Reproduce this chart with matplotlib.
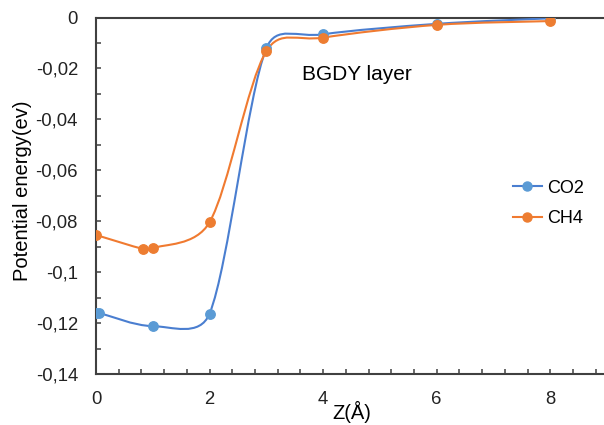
import matplotlib
matplotlib.use("Agg")
import matplotlib.pyplot as plt
import numpy as np
from matplotlib.path import Path
from matplotlib.patches import PathPatch
from matplotlib.ticker import MultipleLocator, FuncFormatter
from matplotlib.lines import Line2D

plt.rcParams['font.family'] = ['Liberation Sans', 'DejaVu Sans']

# data
co2_z = [0, 0.05, 1, 2, 3, 4, 6, 8]
co2_e = [-0.116, -0.116, -0.1212, -0.1163, -0.0121, -0.0066, -0.0025, -0.0003]
ch4_z = [0, 0.83, 1, 2, 3, 4, 6, 8]
ch4_e = [-0.0854, -0.0909, -0.0906, -0.0804, -0.0132, -0.0079, -0.0029, -0.0014]

co2_line, co2_mark = '#4A7ED0', '#5B9BD5'
ch4_line, ch4_mark = '#F07A30', '#ED7D31'


def smooth_path(ax, xs, ys):
    # excel-like smoothed line: catmull-rom bezier, tangents clamped on short segments
    pts = np.column_stack([xs, ys]).astype(float)
    disp = ax.transData.transform(pts)
    n = len(pts)
    verts = [pts[0]]
    codes = [Path.MOVETO]
    def tangent(i):
        a = pts[max(i - 1, 0)]
        b = pts[min(i + 1, n - 1)]
        return (b - a) / 6.0
    for i in range(n - 1):
        seg = np.hypot(*(disp[i + 1] - disp[i]))
        t0 = tangent(i)
        t1 = tangent(i + 1)
        for t in (t0, t1):
            d = ax.transData.transform(pts[i] + t) - disp[i]
            ln = np.hypot(*d)
            if ln > seg * 0.45:
                t *= seg * 0.45 / ln
        verts += [pts[i] + t0, pts[i + 1] - t1, pts[i + 1]]
        codes += [Path.CURVE4] * 3
    return Path(verts, codes)


fig = plt.figure(figsize=(6.04, 4.25), dpi=100)
ax = fig.add_axes([96 / 604, 51 / 425, 511 / 604, 356.5 / 425])
ax.set_xlim(0, 9)
ax.set_ylim(-0.14, 0)

for xs, ys, lc, mc, name in [(co2_z, co2_e, co2_line, co2_mark, 'CO2'),
                             (ch4_z, ch4_e, ch4_line, ch4_mark, 'CH4')]:
    ax.add_patch(PathPatch(smooth_path(ax, xs, ys), facecolor='none',
                           edgecolor=lc, lw=1.5, zorder=3))
    ax.plot(xs, ys, ls='none', marker='o', ms=6.8, color=mc, zorder=4)

ax.xaxis.set_major_locator(MultipleLocator(2))
ax.xaxis.set_minor_locator(MultipleLocator(0.4))
ax.yaxis.set_major_locator(MultipleLocator(0.02))
ax.yaxis.set_minor_locator(MultipleLocator(0.01))


def comma(v, pos):
    if abs(v) < 1e-9:
        return '0'
    return f'{v:g}'.replace('.', ',')


ax.yaxis.set_major_formatter(FuncFormatter(comma))
ax.tick_params(which='both', direction='in', length=3.5, width=1.1, color='#404040',
               labelsize=13.3, labelcolor='#222222')
ax.tick_params(axis='y', pad=13)
ax.tick_params(axis='x', pad=12)

for s in ['left', 'bottom', 'top']:
    ax.spines[s].set_linewidth(1.5)
    ax.spines[s].set_color('#404040')
ax.spines['right'].set_visible(False)

ax.set_ylabel('Potential energy(ev)', fontsize=14.5, va='center')
ax.yaxis.set_label_coords(-0.143, 0.515)
ax.set_xlabel('Z(Å)', fontsize=14.5, va='bottom')
ax.xaxis.set_label_coords(0.5, -49 / 356.5)

ax.text(3.62, -0.0225, 'BGDY layer', fontsize=15, va='center', ha='left')

handles = [Line2D([], [], color=co2_line, lw=1.5, marker='o', ms=6.5, mfc=co2_mark, mec=co2_mark),
           Line2D([], [], color=ch4_line, lw=1.5, marker='o', ms=6.5, mfc=ch4_mark, mec=ch4_mark)]
fig.legend(handles, ['CO2', 'CH4'], loc='center left', frameon=False,
           bbox_to_anchor=(513 / 604, 1 - 203.5 / 425), fontsize=13,
           handlelength=1.6, handletextpad=0.3, labelspacing=0.75,
           borderpad=0, borderaxespad=0)

fig.savefig('out.png', dpi=100)
